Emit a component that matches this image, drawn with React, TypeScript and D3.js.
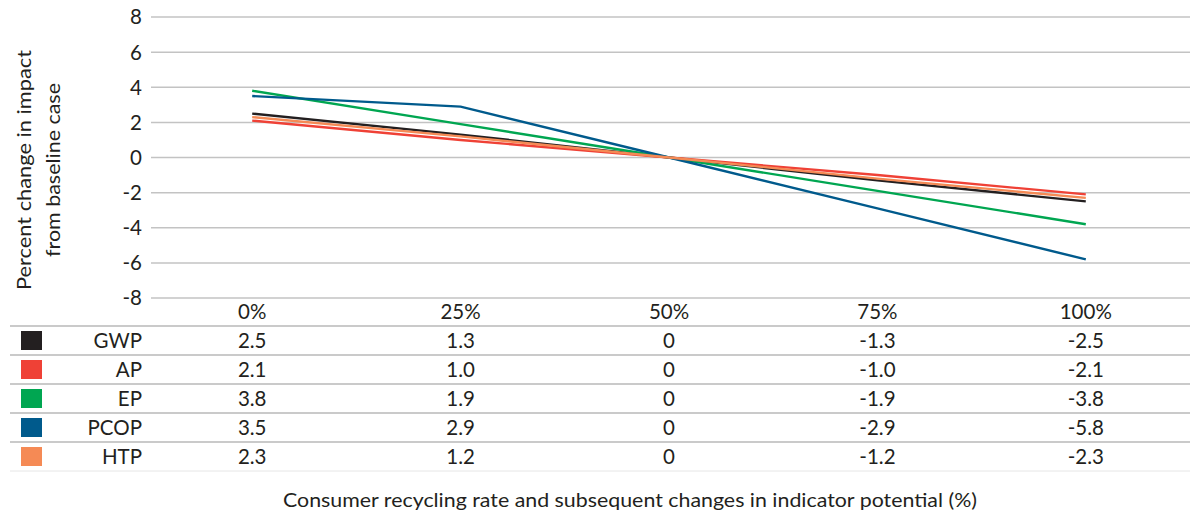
import React from "react";
import * as d3 from "d3";

const categories = ["0%", "25%", "50%", "75%", "100%"];
const seriesNames = ["GWP", "AP", "EP", "PCOP", "HTP"];
const gwpValues = [2.5, 1.3, 0, -1.3, -2.5];
const apValues = [2.1, 1.0, 0, -1.0, -2.1];
const epValues = [3.8, 1.9, 0, -1.9, -3.8];
const pcopValues = [3.5, 2.9, 0, -2.9, -5.8];
const htpValues = [2.3, 1.2, 0, -1.2, -2.3];
const yTicks = [8, 6, 4, 2, 0, -2, -4, -6, -8];
const seriesColors = ["#231f20", "#ef4136", "#00a651", "#005a8c", "#f58a55"];

const seriesValues = [gwpValues, apValues, epValues, pcopValues, htpValues];

const W = 1193;
const H = 518;
const FONT = "Lato, 'Open Sans', sans-serif";
const TEXT = "#231f20";
const LABEL_SIZE = 20.5;

export default function App() {
  const x = d3.scaleBand<string>().domain(categories).range([148, 1190]);
  const y = d3.scaleLinear().domain([-8, 8]).range([298, 17]);
  const row = d3.scaleBand<string>().domain(seriesNames).range([326, 471]);
  const cx = (c: string) => (x(c) ?? 0) + x.bandwidth() / 2;

  const line = d3
    .line<number>()
    .x((_, i) => cx(categories[i]))
    .y((d) => y(d));

  const fmt = (v: number) => (v === 0 ? "0" : v.toFixed(1));

  return (
    <svg
      width={W}
      height={H}
      style={{ position: "absolute", left: 0, top: 0, background: "#fff" }}
      fontFamily={FONT}
    >
      {/* horizontal gridlines with value labels */}
      {yTicks.map((t) => (
        <g key={t}>
          <line x1={151} x2={1190} y1={y(t)} y2={y(t)} stroke="#c3c3c3" strokeWidth={1.5} />
          <text x={142} y={y(t)} dy="0.36em" textAnchor="end" fontSize={LABEL_SIZE} fill={TEXT}>
            {t}
          </text>
        </g>
      ))}

      {/* y-axis title */}
      <g transform="translate(38,170) rotate(-90)" fontSize={20} fill={TEXT}>
        <text x={0} y={-14.5} dy="0.35em" textAnchor="middle" textLength={240} lengthAdjust="spacingAndGlyphs">
          Percent change in impact
        </text>
        <text x={0} y={14.5} dy="0.35em" textAnchor="middle" textLength={174} lengthAdjust="spacingAndGlyphs">
          from baseline case
        </text>
      </g>

      {/* series lines */}
      {seriesValues.map((vals, i) => (
        <path
          key={seriesNames[i]}
          d={line(vals) ?? ""}
          fill="none"
          stroke={seriesColors[i]}
          strokeWidth={2.4}
        />
      ))}

      {/* category header row */}
      {categories.map((c) => (
        <text key={c} x={cx(c)} y={312} dy="0.36em" textAnchor="middle" fontSize={LABEL_SIZE} fill={TEXT}>
          {c}
        </text>
      ))}

      {/* data table */}
      {seriesNames.map((name, i) => {
        const top = row(name) ?? 0;
        const mid = top + row.bandwidth() / 2;
        return (
          <g key={name}>
            <line x1={10} x2={1190} y1={top} y2={top} stroke="#b8b8b8" strokeWidth={1.5} />
            <rect x={21} y={mid - 9.5} width={21} height={19} fill={seriesColors[i]} />
            <text x={142} y={mid} dy="0.36em" textAnchor="end" fontSize={LABEL_SIZE} fill={TEXT}>
              {name}
            </text>
            {categories.map((c, j) => (
              <text
                key={c}
                x={cx(c)}
                y={mid}
                dy="0.36em"
                textAnchor="middle"
                fontSize={LABEL_SIZE}
                fill={TEXT}
              >
                {fmt(seriesValues[i][j])}
              </text>
            ))}
          </g>
        );
      })}
      <line x1={10} x2={1190} y1={row.range()[1]} y2={row.range()[1]} stroke="#e6e6e6" strokeWidth={1} />

      {/* x-axis title */}
      <text
        x={630}
        y={500}
        dy="0.35em"
        textAnchor="middle"
        fontSize={19}
        fill={TEXT}
        textLength={694}
        lengthAdjust="spacingAndGlyphs"
      >
        Consumer recycling rate and subsequent changes in indicator potential (%)
      </text>
    </svg>
  );
}
